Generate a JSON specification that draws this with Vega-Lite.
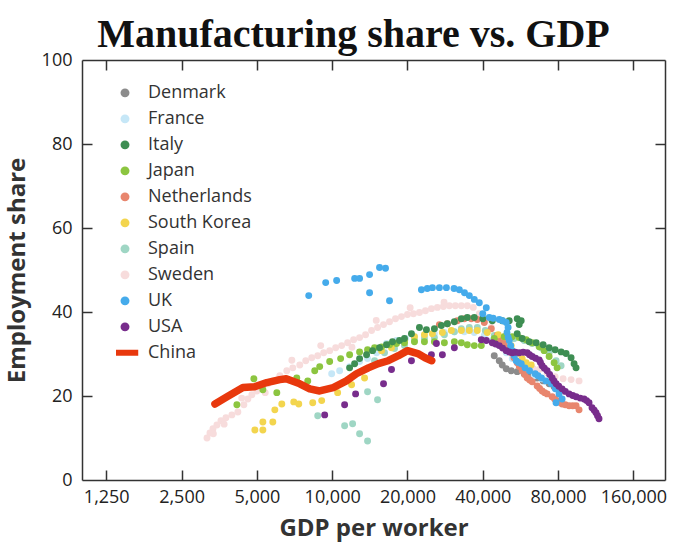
{
  "$schema": "https://vega.github.io/schema/vega-lite/v6.json",
  "width": 583,
  "height": 420,
  "autosize": {"type": "none"},
  "padding": {"left": 82, "top": 60, "right": 15, "bottom": 78},
  "background": "white",
  "title": {"text": "Manufacturing share vs. GDP", "font": "Liberation Serif", "fontSize": 40, "fontWeight": "bold", "color": "#111111", "anchor": "middle", "offset": -4, "dx": -20},
  "config": {
    "view": {"stroke": null},
    "axis": {"domainColor": "#333333", "domainWidth": 1.5, "tickColor": "#333333", "tickWidth": 1.5, "grid": false, "labelFont": "Open Sans", "labelFontSize": 18, "labelColor": "#222222", "titleFont": "Open Sans", "titleFontSize": 24, "titleFontWeight": "bold", "titleColor": "#333333"}
  },
  "datasets": {
    "pts": [
      {"country": "Sweden", "gdp": 3160, "share": 10.0},
      {"country": "Sweden", "gdp": 3247, "share": 11.2},
      {"country": "Sweden", "gdp": 3338, "share": 12.2},
      {"country": "Sweden", "gdp": 3462, "share": 13.1},
      {"country": "Sweden", "gdp": 3593, "share": 14.1},
      {"country": "Sweden", "gdp": 3762, "share": 14.8},
      {"country": "Sweden", "gdp": 3973, "share": 15.5},
      {"country": "Sweden", "gdp": 4198, "share": 16.2},
      {"country": "Sweden", "gdp": 4437, "share": 17.9},
      {"country": "Sweden", "gdp": 4603, "share": 19.3},
      {"country": "Sweden", "gdp": 4776, "share": 20.3},
      {"country": "Sweden", "gdp": 5000, "share": 21.2},
      {"country": "Sweden", "gdp": 5284, "share": 22.0},
      {"country": "Sweden", "gdp": 5532, "share": 22.9},
      {"country": "Sweden", "gdp": 5791, "share": 23.6},
      {"country": "Sweden", "gdp": 6176, "share": 24.8},
      {"country": "Sweden", "gdp": 6586, "share": 26.0},
      {"country": "Sweden", "gdp": 6959, "share": 26.7},
      {"country": "Sweden", "gdp": 7421, "share": 27.4},
      {"country": "Sweden", "gdp": 7841, "share": 28.4},
      {"country": "Sweden", "gdp": 8286, "share": 29.1},
      {"country": "Sweden", "gdp": 8755, "share": 29.6},
      {"country": "Sweden", "gdp": 9249, "share": 30.3},
      {"country": "Sweden", "gdp": 9773, "share": 30.8},
      {"country": "Sweden", "gdp": 10326, "share": 31.5},
      {"country": "Sweden", "gdp": 10910, "share": 32.0},
      {"country": "Sweden", "gdp": 11527, "share": 32.7},
      {"country": "Sweden", "gdp": 12181, "share": 33.4},
      {"country": "Sweden", "gdp": 12870, "share": 33.9},
      {"country": "Sweden", "gdp": 13598, "share": 34.6},
      {"country": "Sweden", "gdp": 14371, "share": 35.6},
      {"country": "Sweden", "gdp": 15185, "share": 36.3},
      {"country": "Sweden", "gdp": 16043, "share": 37.0},
      {"country": "Sweden", "gdp": 16952, "share": 37.7},
      {"country": "Sweden", "gdp": 17911, "share": 38.4},
      {"country": "Sweden", "gdp": 18927, "share": 38.9},
      {"country": "Sweden", "gdp": 19999, "share": 39.4},
      {"country": "Sweden", "gdp": 21132, "share": 39.6},
      {"country": "Sweden", "gdp": 22330, "share": 39.9},
      {"country": "Sweden", "gdp": 23594, "share": 40.3},
      {"country": "Sweden", "gdp": 24930, "share": 40.8},
      {"country": "Sweden", "gdp": 26341, "share": 41.1},
      {"country": "Sweden", "gdp": 27833, "share": 41.3},
      {"country": "Sweden", "gdp": 29410, "share": 41.5},
      {"country": "Sweden", "gdp": 31075, "share": 41.5},
      {"country": "Sweden", "gdp": 32837, "share": 41.5},
      {"country": "Sweden", "gdp": 34697, "share": 41.5},
      {"country": "Sweden", "gdp": 36662, "share": 41.1},
      {"country": "Sweden", "gdp": 38740, "share": 39.6},
      {"country": "Sweden", "gdp": 40933, "share": 37.9},
      {"country": "Sweden", "gdp": 43246, "share": 36.3},
      {"country": "Sweden", "gdp": 45696, "share": 34.4},
      {"country": "Sweden", "gdp": 48291, "share": 32.7},
      {"country": "Sweden", "gdp": 51020, "share": 30.8},
      {"country": "Sweden", "gdp": 53908, "share": 29.4},
      {"country": "Sweden", "gdp": 56965, "share": 27.9},
      {"country": "Sweden", "gdp": 60192, "share": 27.0},
      {"country": "Sweden", "gdp": 63603, "share": 26.5},
      {"country": "Sweden", "gdp": 67200, "share": 26.3},
      {"country": "Sweden", "gdp": 72320, "share": 25.5},
      {"country": "Sweden", "gdp": 77840, "share": 24.6},
      {"country": "Sweden", "gdp": 83770, "share": 24.1},
      {"country": "Sweden", "gdp": 90160, "share": 23.9},
      {"country": "Sweden", "gdp": 97030, "share": 23.6},
      {"country": "Sweden", "gdp": 3350, "share": 11.0},
      {"country": "Sweden", "gdp": 3700, "share": 13.3},
      {"country": "Sweden", "gdp": 4350, "share": 19.5},
      {"country": "Sweden", "gdp": 5400, "share": 20.8},
      {"country": "Sweden", "gdp": 6900, "share": 28.5},
      {"country": "Sweden", "gdp": 9000, "share": 32.0},
      {"country": "Sweden", "gdp": 12000, "share": 31.6},
      {"country": "Sweden", "gdp": 15000, "share": 38.0},
      {"country": "Sweden", "gdp": 20500, "share": 41.0},
      {"country": "Sweden", "gdp": 28000, "share": 42.3},
      {"country": "Denmark", "gdp": 44455, "share": 29.6},
      {"country": "Denmark", "gdp": 46550, "share": 28.4},
      {"country": "Denmark", "gdp": 47850, "share": 27.4},
      {"country": "Denmark", "gdp": 49640, "share": 26.5},
      {"country": "Denmark", "gdp": 51965, "share": 26.0},
      {"country": "Denmark", "gdp": 54908, "share": 25.8},
      {"country": "Denmark", "gdp": 58558, "share": 25.3},
      {"country": "Denmark", "gdp": 62445, "share": 24.8},
      {"country": "Denmark", "gdp": 65981, "share": 24.3},
      {"country": "Denmark", "gdp": 69713, "share": 23.6},
      {"country": "Denmark", "gdp": 73670, "share": 22.9},
      {"country": "Denmark", "gdp": 77131, "share": 22.2},
      {"country": "Denmark", "gdp": 80750, "share": 21.2},
      {"country": "France", "gdp": 9954, "share": 25.3},
      {"country": "France", "gdp": 10711, "share": 26.0},
      {"country": "France", "gdp": 11742, "share": 27.0},
      {"country": "France", "gdp": 12870, "share": 28.2},
      {"country": "France", "gdp": 13851, "share": 28.9},
      {"country": "France", "gdp": 15047, "share": 30.3},
      {"country": "France", "gdp": 16492, "share": 32.5},
      {"country": "France", "gdp": 18078, "share": 33.2},
      {"country": "France", "gdp": 19635, "share": 33.7},
      {"country": "France", "gdp": 21327, "share": 34.1},
      {"country": "France", "gdp": 23379, "share": 34.4},
      {"country": "France", "gdp": 25626, "share": 34.8},
      {"country": "France", "gdp": 28090, "share": 35.1},
      {"country": "France", "gdp": 30792, "share": 35.3},
      {"country": "France", "gdp": 33755, "share": 35.3},
      {"country": "France", "gdp": 37000, "share": 35.1},
      {"country": "France", "gdp": 40560, "share": 34.4},
      {"country": "France", "gdp": 43646, "share": 33.2},
      {"country": "France", "gdp": 46550, "share": 32.0},
      {"country": "France", "gdp": 49640, "share": 30.3},
      {"country": "France", "gdp": 52445, "share": 28.9},
      {"country": "France", "gdp": 55930, "share": 27.4},
      {"country": "France", "gdp": 59643, "share": 26.0},
      {"country": "France", "gdp": 64190, "share": 24.8},
      {"country": "France", "gdp": 69075, "share": 24.1},
      {"country": "Spain", "gdp": 8755, "share": 15.3},
      {"country": "Spain", "gdp": 11214, "share": 12.9},
      {"country": "Spain", "gdp": 12070, "share": 13.4},
      {"country": "Spain", "gdp": 12870, "share": 11.0},
      {"country": "Spain", "gdp": 13851, "share": 9.3},
      {"country": "Spain", "gdp": 13851, "share": 21.0},
      {"country": "Spain", "gdp": 15185, "share": 19.1},
      {"country": "Spain", "gdp": 14773, "share": 28.4},
      {"country": "Spain", "gdp": 16192, "share": 30.3},
      {"country": "Spain", "gdp": 17749, "share": 31.3},
      {"country": "Spain", "gdp": 19456, "share": 32.0},
      {"country": "Spain", "gdp": 21327, "share": 33.2},
      {"country": "Spain", "gdp": 23379, "share": 33.7},
      {"country": "Spain", "gdp": 25626, "share": 33.9},
      {"country": "Spain", "gdp": 28090, "share": 34.6},
      {"country": "Spain", "gdp": 30792, "share": 35.3},
      {"country": "Spain", "gdp": 32837, "share": 36.0},
      {"country": "Spain", "gdp": 35340, "share": 36.3},
      {"country": "Spain", "gdp": 38034, "share": 36.3},
      {"country": "Spain", "gdp": 40933, "share": 35.6},
      {"country": "Spain", "gdp": 44455, "share": 34.4},
      {"country": "Spain", "gdp": 48737, "share": 33.9},
      {"country": "Spain", "gdp": 53418, "share": 33.7},
      {"country": "Spain", "gdp": 58558, "share": 33.2},
      {"country": "Spain", "gdp": 63020, "share": 32.5},
      {"country": "Spain", "gdp": 68443, "share": 31.5},
      {"country": "Spain", "gdp": 73670, "share": 30.3},
      {"country": "Spain", "gdp": 78561, "share": 28.4},
      {"country": "Spain", "gdp": 82245, "share": 27.2},
      {"country": "Netherlands", "gdp": 26830, "share": 37.0},
      {"country": "Netherlands", "gdp": 28875, "share": 37.2},
      {"country": "Netherlands", "gdp": 31651, "share": 37.9},
      {"country": "Netherlands", "gdp": 33755, "share": 38.4},
      {"country": "Netherlands", "gdp": 35995, "share": 38.4},
      {"country": "Netherlands", "gdp": 38034, "share": 38.2},
      {"country": "Netherlands", "gdp": 40560, "share": 37.5},
      {"country": "Netherlands", "gdp": 43246, "share": 36.0},
      {"country": "Netherlands", "gdp": 45696, "share": 34.4},
      {"country": "Netherlands", "gdp": 47000, "share": 33.5},
      {"country": "Netherlands", "gdp": 48737, "share": 32.5},
      {"country": "Netherlands", "gdp": 50300, "share": 31.4},
      {"country": "Netherlands", "gdp": 51965, "share": 30.3},
      {"country": "Netherlands", "gdp": 53300, "share": 29.1},
      {"country": "Netherlands", "gdp": 54908, "share": 27.9},
      {"country": "Netherlands", "gdp": 56000, "share": 27.0},
      {"country": "Netherlands", "gdp": 57490, "share": 26.0},
      {"country": "Netherlands", "gdp": 58800, "share": 25.1},
      {"country": "Netherlands", "gdp": 60192, "share": 24.3},
      {"country": "Netherlands", "gdp": 61600, "share": 23.8},
      {"country": "Netherlands", "gdp": 63020, "share": 23.4},
      {"country": "Netherlands", "gdp": 65981, "share": 22.4},
      {"country": "Netherlands", "gdp": 67500, "share": 21.8},
      {"country": "Netherlands", "gdp": 69075, "share": 21.2},
      {"country": "Netherlands", "gdp": 70700, "share": 20.8},
      {"country": "Netherlands", "gdp": 72320, "share": 20.5},
      {"country": "Netherlands", "gdp": 75726, "share": 19.8},
      {"country": "Netherlands", "gdp": 77500, "share": 19.3},
      {"country": "Netherlands", "gdp": 79284, "share": 18.9},
      {"country": "Netherlands", "gdp": 81000, "share": 18.5},
      {"country": "Netherlands", "gdp": 83003, "share": 18.1},
      {"country": "Netherlands", "gdp": 85500, "share": 17.9},
      {"country": "Netherlands", "gdp": 88520, "share": 17.7},
      {"country": "Netherlands", "gdp": 91500, "share": 17.7},
      {"country": "Netherlands", "gdp": 94390, "share": 17.7},
      {"country": "Netherlands", "gdp": 97030, "share": 16.7},
      {"country": "South Korea", "gdp": 4909, "share": 11.9},
      {"country": "South Korea", "gdp": 5284, "share": 11.9},
      {"country": "South Korea", "gdp": 5284, "share": 13.8},
      {"country": "South Korea", "gdp": 5791, "share": 13.8},
      {"country": "South Korea", "gdp": 5899, "share": 16.7},
      {"country": "South Korea", "gdp": 6290, "share": 18.1},
      {"country": "South Korea", "gdp": 7023, "share": 18.6},
      {"country": "South Korea", "gdp": 7353, "share": 18.1},
      {"country": "South Korea", "gdp": 8362, "share": 18.4},
      {"country": "South Korea", "gdp": 9081, "share": 18.9},
      {"country": "South Korea", "gdp": 10518, "share": 20.8},
      {"country": "South Korea", "gdp": 11959, "share": 22.7},
      {"country": "South Korea", "gdp": 13474, "share": 24.3},
      {"country": "South Korea", "gdp": 15751, "share": 30.8},
      {"country": "South Korea", "gdp": 17266, "share": 31.5},
      {"country": "South Korea", "gdp": 19456, "share": 33.2},
      {"country": "South Korea", "gdp": 21327, "share": 34.1},
      {"country": "South Korea", "gdp": 23379, "share": 34.6},
      {"country": "South Korea", "gdp": 25159, "share": 34.8},
      {"country": "South Korea", "gdp": 27579, "share": 35.1},
      {"country": "South Korea", "gdp": 29955, "share": 35.6},
      {"country": "South Korea", "gdp": 32837, "share": 35.6},
      {"country": "South Korea", "gdp": 35340, "share": 35.6},
      {"country": "South Korea", "gdp": 38034, "share": 35.6},
      {"country": "South Korea", "gdp": 41691, "share": 35.1},
      {"country": "South Korea", "gdp": 46116, "share": 34.6},
      {"country": "South Korea", "gdp": 48737, "share": 34.1},
      {"country": "South Korea", "gdp": 51965, "share": 32.0},
      {"country": "South Korea", "gdp": 54908, "share": 30.1},
      {"country": "South Korea", "gdp": 57490, "share": 28.9},
      {"country": "South Korea", "gdp": 59643, "share": 27.9},
      {"country": "South Korea", "gdp": 62445, "share": 27.4},
      {"country": "Japan", "gdp": 4160, "share": 17.9},
      {"country": "Japan", "gdp": 4864, "share": 24.1},
      {"country": "Japan", "gdp": 5284, "share": 21.5},
      {"country": "Japan", "gdp": 6008, "share": 20.8},
      {"country": "Japan", "gdp": 7219, "share": 24.3},
      {"country": "Japan", "gdp": 7987, "share": 23.6},
      {"country": "Japan", "gdp": 8517, "share": 26.0},
      {"country": "Japan", "gdp": 8916, "share": 27.0},
      {"country": "Japan", "gdp": 9773, "share": 28.2},
      {"country": "Japan", "gdp": 10810, "share": 28.9},
      {"country": "Japan", "gdp": 11742, "share": 29.8},
      {"country": "Japan", "gdp": 12870, "share": 30.5},
      {"country": "Japan", "gdp": 13851, "share": 31.0},
      {"country": "Japan", "gdp": 14773, "share": 31.5},
      {"country": "Japan", "gdp": 15751, "share": 31.7},
      {"country": "Japan", "gdp": 16952, "share": 32.2},
      {"country": "Japan", "gdp": 18078, "share": 32.5},
      {"country": "Japan", "gdp": 19456, "share": 32.7},
      {"country": "Japan", "gdp": 21327, "share": 32.9},
      {"country": "Japan", "gdp": 23379, "share": 32.9},
      {"country": "Japan", "gdp": 25626, "share": 32.9},
      {"country": "Japan", "gdp": 28090, "share": 32.7},
      {"country": "Japan", "gdp": 30792, "share": 32.9},
      {"country": "Japan", "gdp": 32837, "share": 32.7},
      {"country": "Japan", "gdp": 34697, "share": 32.2},
      {"country": "Japan", "gdp": 37000, "share": 32.0},
      {"country": "Japan", "gdp": 39457, "share": 32.0},
      {"country": "Japan", "gdp": 44455, "share": 33.7},
      {"country": "Japan", "gdp": 48737, "share": 34.1},
      {"country": "Japan", "gdp": 52445, "share": 34.1},
      {"country": "Japan", "gdp": 55930, "share": 33.9},
      {"country": "Japan", "gdp": 59643, "share": 33.4},
      {"country": "Japan", "gdp": 63020, "share": 32.7},
      {"country": "Japan", "gdp": 67200, "share": 31.7},
      {"country": "Japan", "gdp": 70357, "share": 30.8},
      {"country": "Japan", "gdp": 73670, "share": 29.4},
      {"country": "Japan", "gdp": 77131, "share": 27.9},
      {"country": "Japan", "gdp": 79284, "share": 26.7},
      {"country": "Italy", "gdp": 11742, "share": 26.7},
      {"country": "Italy", "gdp": 12293, "share": 27.7},
      {"country": "Italy", "gdp": 12870, "share": 28.9},
      {"country": "Italy", "gdp": 13724, "share": 29.8},
      {"country": "Italy", "gdp": 14504, "share": 30.8},
      {"country": "Italy", "gdp": 15465, "share": 31.5},
      {"country": "Italy", "gdp": 16492, "share": 32.2},
      {"country": "Italy", "gdp": 17425, "share": 32.9},
      {"country": "Italy", "gdp": 18583, "share": 33.2},
      {"country": "Italy", "gdp": 19456, "share": 33.7},
      {"country": "Italy", "gdp": 20747, "share": 34.8},
      {"country": "Italy", "gdp": 22330, "share": 36.3},
      {"country": "Italy", "gdp": 23813, "share": 35.8},
      {"country": "Italy", "gdp": 25626, "share": 36.0},
      {"country": "Italy", "gdp": 27327, "share": 36.8},
      {"country": "Italy", "gdp": 28875, "share": 37.2},
      {"country": "Italy", "gdp": 30792, "share": 37.7},
      {"country": "Italy", "gdp": 32837, "share": 38.4},
      {"country": "Italy", "gdp": 34697, "share": 38.7},
      {"country": "Italy", "gdp": 37000, "share": 38.7},
      {"country": "Italy", "gdp": 40000, "share": 38.4},
      {"country": "Italy", "gdp": 43646, "share": 37.9},
      {"country": "Italy", "gdp": 47850, "share": 37.9},
      {"country": "Italy", "gdp": 51020, "share": 37.9},
      {"country": "Italy", "gdp": 54908, "share": 38.4},
      {"country": "Italy", "gdp": 56965, "share": 37.9},
      {"country": "Italy", "gdp": 55930, "share": 37.0},
      {"country": "Italy", "gdp": 54908, "share": 34.8},
      {"country": "Italy", "gdp": 57490, "share": 33.7},
      {"country": "Italy", "gdp": 61310, "share": 32.9},
      {"country": "Italy", "gdp": 65380, "share": 32.7},
      {"country": "Italy", "gdp": 69713, "share": 32.2},
      {"country": "Italy", "gdp": 73670, "share": 31.5},
      {"country": "Italy", "gdp": 77840, "share": 31.0},
      {"country": "Italy", "gdp": 82245, "share": 30.5},
      {"country": "Italy", "gdp": 86110, "share": 30.1},
      {"country": "Italy", "gdp": 90160, "share": 29.1},
      {"country": "Italy", "gdp": 92680, "share": 27.7},
      {"country": "Italy", "gdp": 94390, "share": 26.7},
      {"country": "UK", "gdp": 8060, "share": 43.9},
      {"country": "UK", "gdp": 9421, "share": 47.0},
      {"country": "UK", "gdp": 10420, "share": 47.5},
      {"country": "UK", "gdp": 12300, "share": 48.0},
      {"country": "UK", "gdp": 12870, "share": 48.0},
      {"country": "UK", "gdp": 14110, "share": 48.9},
      {"country": "UK", "gdp": 15465, "share": 50.6},
      {"country": "UK", "gdp": 16340, "share": 50.4},
      {"country": "UK", "gdp": 14110, "share": 44.6},
      {"country": "UK", "gdp": 16952, "share": 42.7},
      {"country": "UK", "gdp": 22740, "share": 45.3},
      {"country": "UK", "gdp": 24000, "share": 45.6},
      {"country": "UK", "gdp": 25160, "share": 45.8},
      {"country": "UK", "gdp": 26830, "share": 45.8},
      {"country": "UK", "gdp": 28620, "share": 45.8},
      {"country": "UK", "gdp": 30700, "share": 45.6},
      {"country": "UK", "gdp": 32240, "share": 45.3},
      {"country": "UK", "gdp": 33800, "share": 44.6},
      {"country": "UK", "gdp": 35340, "share": 43.9},
      {"country": "UK", "gdp": 37000, "share": 43.0},
      {"country": "UK", "gdp": 38740, "share": 42.2},
      {"country": "UK", "gdp": 41310, "share": 41.0},
      {"country": "UK", "gdp": 40000, "share": 39.6},
      {"country": "UK", "gdp": 42460, "share": 38.7},
      {"country": "UK", "gdp": 44000, "share": 38.5},
      {"country": "UK", "gdp": 46550, "share": 38.2},
      {"country": "UK", "gdp": 48000, "share": 37.9},
      {"country": "UK", "gdp": 49630, "share": 37.5},
      {"country": "UK", "gdp": 50500, "share": 36.3},
      {"country": "UK", "gdp": 50000, "share": 35.1},
      {"country": "UK", "gdp": 50500, "share": 34.0},
      {"country": "UK", "gdp": 51020, "share": 33.2},
      {"country": "UK", "gdp": 51700, "share": 32.0},
      {"country": "UK", "gdp": 52500, "share": 30.8},
      {"country": "UK", "gdp": 53400, "share": 29.6},
      {"country": "UK", "gdp": 54400, "share": 28.4},
      {"country": "UK", "gdp": 55500, "share": 28.0},
      {"country": "UK", "gdp": 57000, "share": 27.7},
      {"country": "UK", "gdp": 59000, "share": 26.7},
      {"country": "UK", "gdp": 61500, "share": 26.0},
      {"country": "UK", "gdp": 64800, "share": 25.3},
      {"country": "UK", "gdp": 66500, "share": 24.8},
      {"country": "UK", "gdp": 68600, "share": 24.3},
      {"country": "UK", "gdp": 71500, "share": 23.6},
      {"country": "UK", "gdp": 75200, "share": 22.9},
      {"country": "UK", "gdp": 78000, "share": 21.7},
      {"country": "UK", "gdp": 80750, "share": 20.5},
      {"country": "UK", "gdp": 83000, "share": 19.3},
      {"country": "UK", "gdp": 78500, "share": 18.4},
      {"country": "USA", "gdp": 9335, "share": 15.5},
      {"country": "USA", "gdp": 11214, "share": 17.9},
      {"country": "USA", "gdp": 12407, "share": 20.5},
      {"country": "USA", "gdp": 16043, "share": 22.9},
      {"country": "USA", "gdp": 17266, "share": 26.3},
      {"country": "USA", "gdp": 20747, "share": 28.4},
      {"country": "USA", "gdp": 24930, "share": 29.8},
      {"country": "USA", "gdp": 26101, "share": 32.5},
      {"country": "USA", "gdp": 27579, "share": 29.8},
      {"country": "USA", "gdp": 30792, "share": 31.5},
      {"country": "USA", "gdp": 39457, "share": 33.4},
      {"country": "USA", "gdp": 41310, "share": 33.2},
      {"country": "USA", "gdp": 43646, "share": 32.7},
      {"country": "USA", "gdp": 45000, "share": 32.4},
      {"country": "USA", "gdp": 46550, "share": 32.0},
      {"country": "USA", "gdp": 48000, "share": 31.4},
      {"country": "USA", "gdp": 49640, "share": 30.8},
      {"country": "USA", "gdp": 51000, "share": 30.5},
      {"country": "USA", "gdp": 52445, "share": 30.3},
      {"country": "USA", "gdp": 54000, "share": 30.4},
      {"country": "USA", "gdp": 55930, "share": 30.3},
      {"country": "USA", "gdp": 58000, "share": 30.4},
      {"country": "USA", "gdp": 60192, "share": 30.3},
      {"country": "USA", "gdp": 61500, "share": 29.8},
      {"country": "USA", "gdp": 63020, "share": 29.4},
      {"country": "USA", "gdp": 65000, "share": 29.0},
      {"country": "USA", "gdp": 67200, "share": 28.6},
      {"country": "USA", "gdp": 68000, "share": 28.0},
      {"country": "USA", "gdp": 69075, "share": 27.2},
      {"country": "USA", "gdp": 70500, "share": 26.6},
      {"country": "USA", "gdp": 72320, "share": 26.0},
      {"country": "USA", "gdp": 74000, "share": 25.1},
      {"country": "USA", "gdp": 75726, "share": 24.3},
      {"country": "USA", "gdp": 77000, "share": 23.6},
      {"country": "USA", "gdp": 78561, "share": 22.9},
      {"country": "USA", "gdp": 80500, "share": 22.3},
      {"country": "USA", "gdp": 83003, "share": 21.7},
      {"country": "USA", "gdp": 85500, "share": 21.1},
      {"country": "USA", "gdp": 88520, "share": 20.5},
      {"country": "USA", "gdp": 91500, "share": 20.1},
      {"country": "USA", "gdp": 94390, "share": 19.8},
      {"country": "USA", "gdp": 98000, "share": 19.5},
      {"country": "USA", "gdp": 101590, "share": 19.3},
      {"country": "USA", "gdp": 104000, "share": 18.9},
      {"country": "USA", "gdp": 106360, "share": 18.4},
      {"country": "USA", "gdp": 109330, "share": 17.2},
      {"country": "USA", "gdp": 111500, "share": 16.6},
      {"country": "USA", "gdp": 113410, "share": 16.0},
      {"country": "USA", "gdp": 115000, "share": 15.3},
      {"country": "USA", "gdp": 116580, "share": 14.6}
    ],
    "china": [
      {"country": "China", "gdp": 3400, "share": 18.1},
      {"country": "China", "gdp": 3800, "share": 19.8},
      {"country": "China", "gdp": 4398, "share": 22.0},
      {"country": "China", "gdp": 4900, "share": 22.2},
      {"country": "China", "gdp": 5480, "share": 23.2},
      {"country": "China", "gdp": 6176, "share": 23.9},
      {"country": "China", "gdp": 6550, "share": 24.1},
      {"country": "China", "gdp": 7421, "share": 22.9},
      {"country": "China", "gdp": 8135, "share": 21.7},
      {"country": "China", "gdp": 8916, "share": 21.2},
      {"country": "China", "gdp": 10100, "share": 22.0},
      {"country": "China", "gdp": 11400, "share": 23.6},
      {"country": "China", "gdp": 12500, "share": 25.3},
      {"country": "China", "gdp": 13950, "share": 26.7},
      {"country": "China", "gdp": 15300, "share": 27.7},
      {"country": "China", "gdp": 16750, "share": 28.4},
      {"country": "China", "gdp": 18400, "share": 29.6},
      {"country": "China", "gdp": 20000, "share": 30.8},
      {"country": "China", "gdp": 22000, "share": 30.1},
      {"country": "China", "gdp": 23500, "share": 29.1},
      {"country": "China", "gdp": 25000, "share": 28.4}
    ]
  },
  "layer": [
    {
      "data": {"name": "pts"},
      "mark": {"type": "point", "filled": true, "opacity": 1, "size": 48},
      "encoding": {
        "x": {"field": "gdp", "type": "quantitative", "scale": {"type": "log", "base": 2, "domain": [1000, 214000], "nice": false},
          "axis": {"values": [1250, 2500, 5000, 10000, 20000, 40000, 80000, 160000], "format": ",", "ticks": false, "labelPadding": 8, "labelFlush": false, "labelOverlap": false, "title": "GDP per worker", "titlePadding": 10}},
        "y": {"field": "share", "type": "quantitative", "scale": {"domain": [0, 100], "nice": false},
          "axis": {"values": [0, 20, 40, 60, 80, 100], "ticks": false, "labelPadding": 10, "title": "Employment share", "titlePadding": 12}},
        "color": {"field": "country", "type": "nominal",
          "scale": {"domain": ["Denmark", "France", "Italy", "Japan", "Netherlands", "South Korea", "Spain", "Sweden", "UK", "USA", "China"],
            "range": ["#8c8c8c", "#c6e7f7", "#3e8e53", "#8cc540", "#e8866e", "#f3d54e", "#9fd6c4", "#f7dcdc", "#45abeb", "#782d8c", "#e8380d"]},
          "legend": {"title": null, "orient": "none", "legendX": 34, "legendY": 20, "symbolType": "circle", "symbolSize": 80, "symbolOpacity": 1, "labelFont": "Open Sans", "labelFontSize": 18, "labelColor": "#333333", "labelOffset": 14, "rowPadding": 0, "clipHeight": 25.7, "padding": 0,
            "encode": {"symbols": {"update": {
              "shape": {"signal": "datum.value === 'China' ? 'stroke' : 'circle'"},
              "size": {"signal": "datum.value === 'China' ? 700 : 80"},
              "strokeWidth": {"signal": "datum.value === 'China' ? 6 : 0"},
              "stroke": {"signal": "datum.value === 'China' ? '#e8380d' : 'transparent'"}
            }}}}}
      }
    },
    {
      "data": {"name": "china"},
      "mark": {"type": "line", "strokeWidth": 7.5, "strokeCap": "round", "strokeJoin": "round"},
      "encoding": {
        "x": {"field": "gdp", "type": "quantitative", "axis": {"orient": "bottom", "offset": -420, "values": [1250, 2500, 5000, 10000, 20000, 40000, 80000, 160000], "labels": false, "title": null, "tickSize": 10}},
        "y": {"field": "share", "type": "quantitative", "axis": {"orient": "left", "offset": -583, "values": [20, 40, 60, 80], "labels": false, "title": null, "tickSize": 10}},
        "color": {"field": "country", "type": "nominal"}
      }
    },
    {
      "data": {"name": "china"},
      "mark": {"type": "line", "opacity": 0},
      "encoding": {
        "x": {"field": "gdp", "type": "quantitative", "axis": {"orient": "top", "offset": -420, "domain": false, "values": [1250, 2500, 5000, 10000, 20000, 40000, 80000, 160000], "labels": false, "title": null, "tickSize": 10}},
        "y": {"field": "share", "type": "quantitative", "axis": {"orient": "right", "offset": -583, "domain": false, "values": [20, 40, 60, 80], "labels": false, "title": null, "tickSize": 10}}
      }
    }
  ],
  "resolve": {"axis": {"x": "independent", "y": "independent"}}
}
